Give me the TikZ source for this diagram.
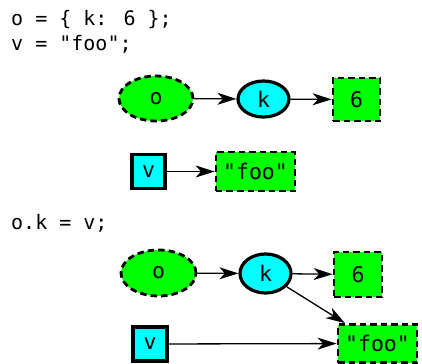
\documentclass[tikz,border=0pt]{standalone}
\usepackage{fontspec}
\newfontfamily\codefont{DejaVu Sans Mono}
\usetikzlibrary{arrows.meta,shapes.geometric}
\definecolor{objgreen}{HTML}{00FF00}
\definecolor{refcyan}{HTML}{00FFFF}
\begin{document}
\begin{tikzpicture}[x=1bp,y=-1bp,
  code/.style={anchor=base west,inner sep=0pt,font=\codefont\fontsize{20bp}{24bp}\selectfont},
  lbl/.style={inner sep=0pt,font=\codefont\fontsize{21.5bp}{25bp}\selectfont},
  valbox/.style={lbl,rectangle,draw,fill=objgreen,line width=2.8bp,dash pattern=on 6.5bp off 4bp},
  objell/.style={lbl,ellipse,draw,fill=objgreen,line width=2.8bp,dash pattern=on 6.5bp off 4bp},
  keyell/.style={lbl,ellipse,draw,fill=refcyan,line width=3.2bp},
  varbox/.style={lbl,rectangle,draw,fill=refcyan,line width=3.2bp},
  edge/.style={line width=1.3bp,-{Stealth[length=19bp,width=12bp,inset=5.5bp]}}
]
\useasboundingbox (0,0) rectangle (422,364);
% top
\node[code] (c1) at (11,25.7) {o = \{ k: 6 \};};
\node[code] (c2) at (11,50) {v = "foo";};
\node[objell,minimum width=74bp,minimum height=45bp] (o1) at (156,98.5) {o};
\node[keyell,minimum width=51bp,minimum height=36bp] (k1) at (263.5,99) {k};
\node[valbox,minimum width=47bp,minimum height=43bp] (s1) at (356.5,99.5) {6};
\node[varbox,minimum width=33bp,minimum height=34bp] (v1) at (148.5,171.5) {v};
\node[valbox,minimum width=79bp,minimum height=39bp] (f1) at (255.5,171.5) {"foo"};
\draw[edge] (o1) -- (k1);
\draw[edge] (k1) -- (s1);
\draw[edge] (v1) -- (f1);
% bottom
\node[code] (c3) at (11,229) {o.k = v;};
\node[objell,minimum width=75bp,minimum height=46bp] (o2) at (158.5,273) {o};
\node[keyell,minimum width=51bp,minimum height=39bp] (k2) at (265.5,273.5) {k};
\node[valbox,minimum width=48bp,minimum height=45bp] (s2) at (358,274.5) {6};
\node[varbox,minimum width=34bp,minimum height=34bp] (v2) at (150,344) {v};
\node[valbox,minimum width=79bp,minimum height=38bp] (f2) at (377.5,343.5) {"foo"};
\draw[edge] (o2) -- (k2);
\draw[edge] (k2) -- (s2);
\draw[edge] (k2) -- (f2);
\draw[edge] (v2) -- (f2);
\end{tikzpicture}
\end{document}
